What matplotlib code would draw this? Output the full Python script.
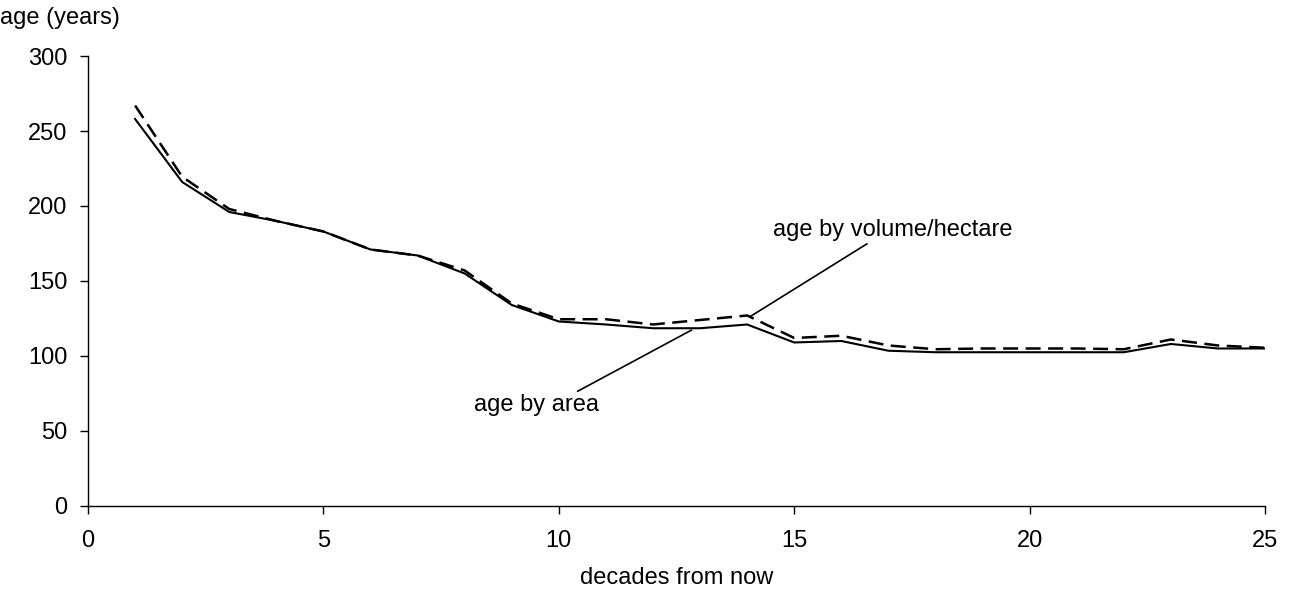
import matplotlib
matplotlib.use('Agg')
import matplotlib.pyplot as plt

plt.rcParams['font.family'] = ['Liberation Sans', 'DejaVu Sans']

# decades from now
decades = list(range(1, 26))

# mean age weighted by area (solid) and by volume/hectare (dashed)
age_area = [258, 216, 196, 190, 183, 171, 167, 155, 134, 123, 121, 118.5, 118.5, 121,
            109, 110, 103.5, 102.5, 102.5, 102.5, 102.5, 102.5, 108, 105, 105]
age_volume = [267, 219.5, 198, 190, 183, 171, 167, 157, 135, 124.5, 124.5, 121, 124, 127,
              112, 113.5, 107, 104.5, 105, 105, 105, 104.5, 111, 107, 105.5]

fs = 17

fig = plt.figure(figsize=(12.89, 5.99), dpi=100)
ax = fig.add_axes([0.0683, 0.1553, 0.9131, 0.7512])

ax.plot(decades, age_area, color='black', lw=1.5, ls='-')
ax.plot(decades, age_volume, color='black', lw=1.8, ls=(0, (6, 3)))

ax.set_xlim(0, 25)
ax.set_ylim(0, 300)
ax.set_xticks([0, 5, 10, 15, 20, 25])
ax.set_yticks([0, 50, 100, 150, 200, 250, 300])
ax.tick_params(labelsize=fs, direction='out', length=6, width=1)
ax.tick_params(axis='y', pad=9)
ax.tick_params(axis='x', pad=11)

for side in ['top', 'right']:
    ax.spines[side].set_visible(False)
ax.spines['left'].set_linewidth(1)
ax.spines['bottom'].set_linewidth(1)

fig.text(0.525, 0.035, 'decades from now', fontsize=fs, ha='center', va='center')
fig.text(0.0, 0.97, 'age (years)', fontsize=fs, ha='left', va='center')

# leader-line labels
ax.annotate('age by volume/hectare', xy=(14.06, 126.2), xytext=(17.1, 184),
            fontsize=fs, ha='center', va='center',
            arrowprops=dict(arrowstyle='-', color='black', lw=1.2,
                            shrinkA=0, shrinkB=0, relpos=(0.41, 0.0)))
ax.annotate('age by area', xy=(12.82, 117.3), xytext=(9.52, 67.3),
            fontsize=fs, ha='center', va='center',
            arrowprops=dict(arrowstyle='-', color='black', lw=1.2,
                            shrinkA=0, shrinkB=0, relpos=(0.79, 1.0)))

fig.savefig('out.png', dpi=100)
